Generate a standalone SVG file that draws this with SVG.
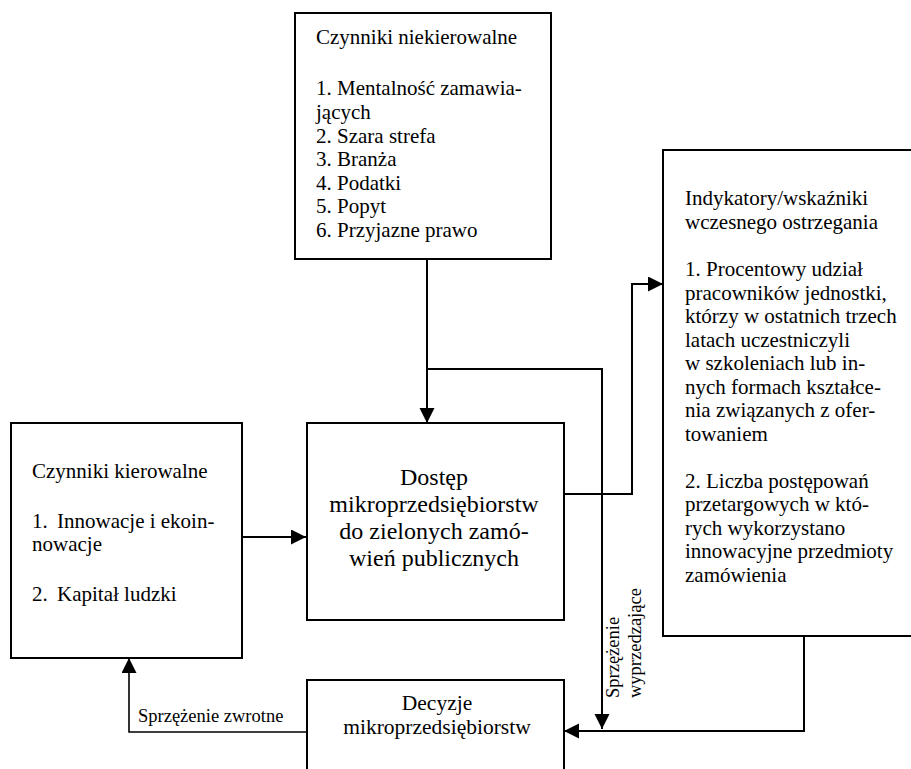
<svg xmlns="http://www.w3.org/2000/svg" width="911" height="769" viewBox="0 0 911 769">
  <style>
    .box { fill: #ffffff; stroke: #000000; stroke-width: 2; }
    text { font-family: 'Liberation Serif', 'Times New Roman', 'DejaVu Serif', serif; fill: #000000; }
    .t21 { font-size: 21px; }
    .t24 { font-size: 24px; }
    .t22 { font-size: 21.5px; }
    .t18 { font-size: 18.5px; }
    .mid { text-anchor: middle; }
    .conn { fill: none; stroke: #000000; stroke-width: 2; }
    .thin { stroke-width: 1.6; }
  </style>
  <defs>
    <marker id="arrow" markerUnits="userSpaceOnUse" markerWidth="16" markerHeight="16" refX="15" refY="7.5" orient="auto">
      <path d="M0,0 L15,7.5 L0,15 Z" fill="#000000"/>
    </marker>
  </defs>
  <rect width="911" height="769" fill="#ffffff"/>

  <g id="connectors">
    <path class="conn" d="M427,260 L427,423" stroke-width="2.4" marker-end="url(#arrow)"/>
    <path class="conn" d="M427,369 L602,369 L602,729" marker-end="url(#arrow)"/>
    <path class="conn" d="M242,537 L306,537" marker-end="url(#arrow)"/>
    <path class="conn" d="M564,494 L632,494 L632,284 L663,284" marker-end="url(#arrow)"/>
    <path class="conn" d="M804,636 L804,731 L564,731" marker-end="url(#arrow)"/>
    <path class="conn thin" d="M307,732 L129,732 L129,658" marker-end="url(#arrow)"/>
  </g>

  <g id="czynniki-niekierowalne" font-family="Liberation Serif, Times New Roman, serif">
    <rect class="box" x="295" y="13" width="256" height="246"/>
    <text class="t21" x="316" y="44">Czynniki niekierowalne</text>
    <text class="t21" x="316" y="95">1. Mentalność zamawia-</text>
    <text class="t21" x="316" y="119">jących</text>
    <text class="t21" x="316" y="142.5">2. Szara strefa</text>
    <text class="t21" x="316" y="166">3. Branża</text>
    <text class="t21" x="316" y="189.5">4. Podatki</text>
    <text class="t21" x="316" y="213">5. Popyt</text>
    <text class="t21" x="316" y="237">6. Przyjazne prawo</text>
  </g>

  <g id="indykatory">
    <rect class="box" x="663" y="150" width="260" height="486"/>
    <text class="t21" x="685" y="205">Indykatory/wskaźniki</text>
    <text class="t21" x="685" y="228.5">wczesnego ostrzegania</text>
    <text class="t21" x="685" y="276">1. Procentowy udział</text>
    <text class="t21" x="685" y="299.5">pracowników jednostki,</text>
    <text class="t21" x="685" y="323">którzy w ostatnich trzech</text>
    <text class="t21" x="685" y="346.5">latach uczestniczyli</text>
    <text class="t21" x="685" y="370">w szkoleniach lub in-</text>
    <text class="t21" x="685" y="393.5">nych formach kształce-</text>
    <text class="t21" x="685" y="417">nia związanych z ofer-</text>
    <text class="t21" x="685" y="440.5">towaniem</text>
    <text class="t21" x="685" y="487.5">2. Liczba postępowań</text>
    <text class="t21" x="685" y="511">przetargowych w któ-</text>
    <text class="t21" x="685" y="534.5">rych wykorzystano</text>
    <text class="t21" x="685" y="558">innowacyjne przedmioty</text>
    <text class="t21" x="685" y="581.5">zamówienia</text>
  </g>

  <g id="czynniki-kierowalne">
    <rect class="box" x="11" y="423" width="231" height="235"/>
    <text class="t21" x="32" y="478">Czynniki kierowalne</text>
    <text class="t21" y="528"><tspan x="32">1.</tspan><tspan x="57">Innowacje i ekoin-</tspan></text>
    <text class="t21" x="32" y="551">nowacje</text>
    <text class="t21" y="601"><tspan x="32">2.</tspan><tspan x="57">Kapitał ludzki</tspan></text>
  </g>

  <g id="dostep">
    <rect class="box" x="307" y="423" width="257" height="197"/>
    <text class="t24 mid" x="434" y="485">Dostęp</text>
    <text class="t24 mid" x="434" y="512">mikroprzedsiębiorstw</text>
    <text class="t24 mid" x="434" y="539">do zielonych zamó-</text>
    <text class="t24 mid" x="434" y="566">wień publicznych</text>
  </g>

  <g id="decyzje">
    <rect class="box" x="307" y="680" width="257" height="120"/>
    <text class="t22 mid" x="437" y="710">Decyzje</text>
    <text class="t22 mid" x="437" y="734">mikroprzedsiębiorstw</text>
  </g>

  <g id="labels">
    <text class="t18" x="138" y="722">Sprzężenie zwrotne</text>
    <text class="t18" transform="translate(619,698) rotate(-90)">Sprzężenie</text>
    <text class="t18" transform="translate(641,698) rotate(-90)">wyprzedzające</text>
  </g>
</svg>
